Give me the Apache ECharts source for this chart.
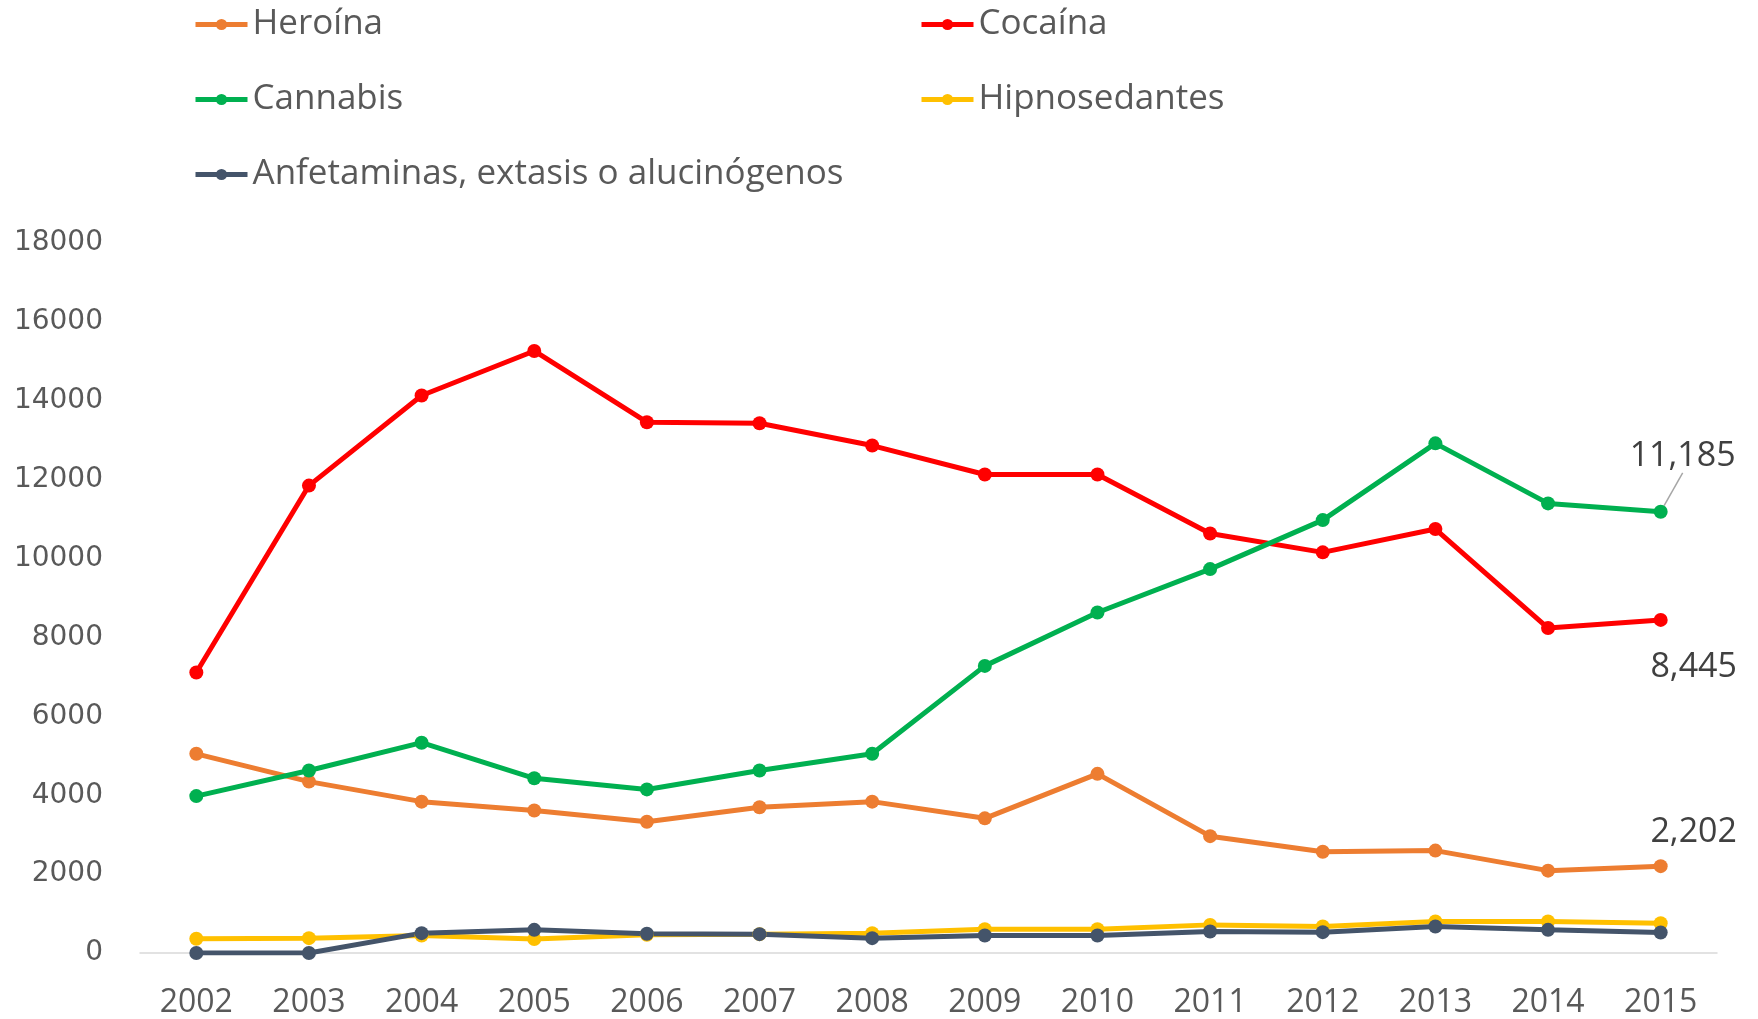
<!DOCTYPE html>
<html><head><meta charset="utf-8">
<script src="https://cdn.jsdelivr.net/npm/echarts@6/dist/echarts.min.js"></script>
<style>html,body{margin:0;padding:0;background:#fff}#c{width:1758px;height:1019px}</style>
</head><body><div id="c"></div>
<script>
const years = ['2002','2003','2004','2005','2006','2007','2008','2009','2010','2011','2012','2013','2014','2015'];
const heroina = [5050,4345,3837,3611,3329,3696,3837,3414,4542,2962,2567,2596,2088,2202];
const cocaina = [7110,11850,14135,15263,13457,13429,12865,12132,12132,10636,10157,10749,8238,8445];
const cannabis = [3978,4627,5332,4429,4147,4627,5050,7279,8633,9733,10975,12921,11398,11185];
const hipnosedantes = [360,377,444,352,461,478,503,604,604,713,671,797,797,755];
const anfetaminas = [0,0,503,587,487,478,377,444,444,545,528,671,587,520];
const yTicks = {min:0, max:18000, interval:2000};

const chart = echarts.init(document.getElementById('c'));
const F = "'Open Sans', sans-serif";
function lastLabel(arr){
  return arr.map((v,i)=> i===arr.length-1 ? {value:v, label:{show:true}} : v);
}
function mk(name, color, data, labelCfg){
  const s = {
    name, type:'line', data: labelCfg ? lastLabel(data) : data,
    symbol:'circle', symbolSize:14, showSymbol:true,
    lineStyle:{color, width:5}, itemStyle:{color},
    label:{show:false, formatter:(p)=>p.value.toLocaleString('en-US'), fontFamily:F, fontSize:34, color:'#404040'},
    emphasis:{disabled:true}, animation:false, z:2
  };
  if (labelCfg){
    s.labelLayout = function(p){ return p.dataIndex===data.length-1 ? {dx:labelCfg.dx, dy:labelCfg.dy} : {}; };
    s.label.position = labelCfg.pos;
    if (labelCfg.line) s.labelLine = {show:true, lineStyle:{color:'#A6A6A6', width:1.5}};
  }
  return s;
}
const legendText = {fontFamily:F, fontSize:35, color:'#595959'};
function leg(name, left, top){
  return {data:[name], left, top, itemWidth:52, itemHeight:14, itemGap:6, textStyle:legendText,
    selectedMode:false, padding:0, lineStyle:{width:5}, itemStyle:{borderWidth:0}};
}
chart.setOption({
  backgroundColor:'#fff',
  animation:false,
  legend:[
    leg('Heroína',193,7), leg('Cocaína',919,7),
    leg('Cannabis',193,82), leg('Hipnosedantes',919,82),
    leg('Anfetaminas, extasis o alucinógenos',193,157)
  ],
  grid:{left:140, right:41, top:243, bottom:57, containLabel:false},
  xAxis:{type:'category', data:years, boundaryGap:true,
    axisLine:{lineStyle:{color:'#D9D9D9', width:1.5}}, axisTick:{show:false},
    axisLabel:{fontFamily:F, fontSize:32, color:'#595959', margin:34}},
  yAxis:{type:'value', min:yTicks.min, max:yTicks.max, interval:yTicks.interval,
    axisLine:{show:false}, axisTick:{show:false}, splitLine:{show:false},
    axisLabel:{fontFamily:"'DejaVu Sans', Verdana, sans-serif", fontSize:28, color:'#595959', margin:37,
      formatter:(v)=>String(v)}},
  series:[
    mk('Heroína','#ED7D31',heroina,{pos:'top', dx:33, dy:-5}),
    mk('Cocaína','#FF0000',cocaina,{pos:'bottom', dx:33, dy:18}),
    mk('Cannabis','#00B050',cannabis,{pos:'top', dx:22, dy:-27, line:true}),
    mk('Hipnosedantes','#FFC000',hipnosedantes,null),
    mk('Anfetaminas, extasis o alucinógenos','#44546A',anfetaminas,null)
  ]
});
</script></body></html>
